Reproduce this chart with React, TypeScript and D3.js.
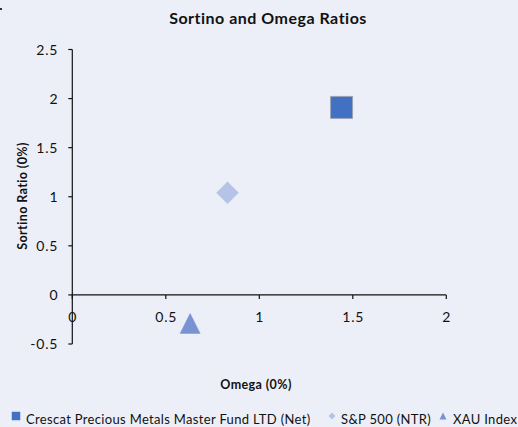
import React from 'react';
import * as d3 from 'd3';

const seriesNames = ['Crescat Precious Metals Master Fund LTD (Net)', 'S&P 500 (NTR)', 'XAU Index'];
const omegaValues = [1.44, 0.83, 0.63];
const sortinoValues = [1.91, 1.04, -0.29];
const markerShapes = ['square', 'diamond', 'triangle'];
const markerColors = ['#4270C2', '#B4C3E6', '#7892D2'];
const xTicks = [0, 0.5, 1, 1.5, 2];
const yTicks = [-0.5, 0, 0.5, 1, 1.5, 2, 2.5];

const W = 518;
const H = 427;
const FONT = 'Lato, Carlito, Calibri, sans-serif';

const markerPath = (shape: string, size: number) => {
  const s = size / 2;
  if (shape === 'square') return `M${-s},${-s}H${s}V${s}H${-s}Z`;
  if (shape === 'diamond') return `M0,${-s}L${s},0L0,${s}L${-s},0Z`;
  return `M0,${-s}L${s},${s}L${-s},${s}Z`;
};

const App = () => {
  const x = d3.scaleLinear().domain([0, 2]).range([72.3, 446.3]);
  const y = d3.scaleLinear().domain([-0.5, 2.5]).range([344, 49.5]);
  const sizes = [22, 22, 20];

  const legendItems = [
    { mx: 16, tx: 26, size: 8.5 },
    { mx: 332, tx: 341, size: 7 },
    { mx: 443, tx: 453, size: 7 },
  ];

  return (
    <svg width={W} height={H} style={{ position: 'absolute', left: 0, top: 0, background: '#ECEFF7' }}>
      <rect x={0} y={0} width={W} height={H} fill="#ECEFF7" />
      <rect x={0} y={8} width={2} height={2} fill="#333" />
      <text x={268} y={24} textAnchor="middle" fontFamily={FONT} fontWeight="bold" fontSize={16} letterSpacing={0.5} fill="#111">
        Sortino and Omega Ratios
      </text>

      {/* y axis */}
      <line x1={x(0)} x2={x(0)} y1={y(2.5)} y2={y(-0.5)} stroke="#111" strokeWidth={1.2} />
      {yTicks.map((t) => (
        <g key={'y' + t}>
          <line x1={x(0) - 4} x2={x(0)} y1={y(t)} y2={y(t)} stroke="#111" strokeWidth={1.2} />
          <text x={x(0) - 14} y={y(t) + 5} textAnchor="end" fontFamily={FONT} fontSize={14} letterSpacing={0.8} fill="#111">
            {t}
          </text>
        </g>
      ))}

      {/* x axis at y = 0 */}
      <line x1={x(0)} x2={x(2)} y1={y(0)} y2={y(0)} stroke="#111" strokeWidth={1.2} />
      {xTicks.map((t) => (
        <g key={'x' + t}>
          <line x1={x(t)} x2={x(t)} y1={y(0)} y2={y(0) + 4} stroke="#111" strokeWidth={1.2} />
          <text x={x(t) + 0.4} y={y(0) + 27} textAnchor="middle" fontFamily={FONT} fontSize={14} letterSpacing={0.8} fill="#111">
            {t}
          </text>
        </g>
      ))}

      <text
        transform={`translate(27,${196}) rotate(-90)`}
        textAnchor="middle"
        fontFamily={FONT}
        fontWeight="bold"
        fontSize={12.5}
        letterSpacing={0.4}
        fill="#111"
      >
        Sortino Ratio (0%)
      </text>
      <text x={256} y={389} textAnchor="middle" fontFamily={FONT} fontWeight="bold" fontSize={12.5} letterSpacing={0.4} fill="#111">
        Omega (0%)
      </text>

      {seriesNames.map((n, i) => (
        <path
          key={n}
          d={markerPath(markerShapes[i], sizes[i])}
          transform={`translate(${x(omegaValues[i])},${y(sortinoValues[i])})`}
          fill={markerColors[i]}
          stroke={i === 0 ? '#9AA3B5' : markerColors[i]}
          strokeWidth={i === 0 ? 1 : 0.5}
        />
      ))}

      {seriesNames.map((n, i) => (
        <g key={'lg' + n}>
          <path
            d={markerPath(markerShapes[i], legendItems[i].size)}
            transform={`translate(${legendItems[i].mx},${416})`}
            fill={markerColors[i]}
          />
          <text x={legendItems[i].tx} y={424} fontFamily={FONT} fontSize={13} letterSpacing={0.33} fill="#111">
            {n}
          </text>
        </g>
      ))}
    </svg>
  );
};

export default App;
